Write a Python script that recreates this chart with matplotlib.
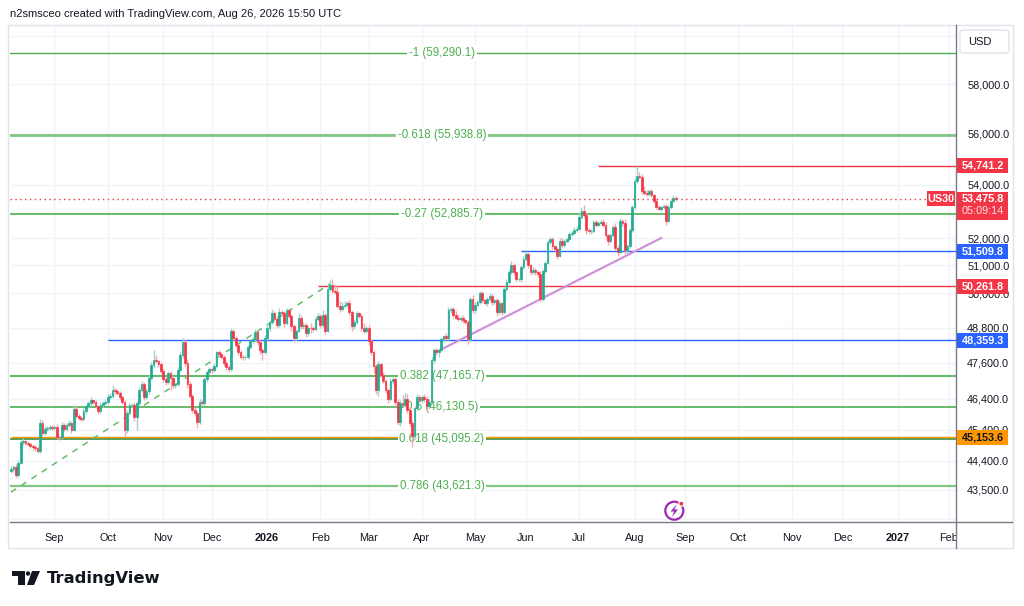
import numpy as np
import pandas as pd
import matplotlib
matplotlib.use("Agg")
import matplotlib.pyplot as plt
from matplotlib.patches import Rectangle, FancyBboxPatch, Ellipse, Polygon
from matplotlib.lines import Line2D
from matplotlib.ticker import FixedLocator, FixedFormatter, NullLocator

plt.rcParams["font.family"] = ["Liberation Sans", "DejaVu Sans"]

# ---- data --------------------------------------------------------------
first_day = "2025-08-06"
first_open = 44100

closes = [
    44150, 44220, 43950, 44350, 44990, 45020, 44960, 44930, 44880, 44840,
    44800, 44720, 45620, 45300, 45420, 45450, 45480, 45460, 45490, 45160,
    45150, 45560, 45420, 45550, 45610, 45400, 46070, 45850, 45760, 45750,
    46000, 46150, 46250, 46350, 46300, 46150, 46000, 46200, 46260, 46300,
    46450, 46500, 46700, 46650, 46600, 46450, 46300, 45400, 45950, 46200,
    46200, 45800, 46270, 46690, 46900, 46450, 46650, 47100, 47520, 47700,
    47650, 47550, 47330, 47050, 46950, 47250, 47100, 46850, 46880, 47350,
    47850, 48300, 47600, 46900, 46500, 46050, 45950, 45650, 46300, 46250,
    47050, 47300, 47400, 47350, 47500, 47950, 47900, 47800, 47600, 47450,
    47400, 48700, 48450, 48200, 47950, 47800, 47780, 47800, 48120, 48330,
    48400, 48650, 48300, 48050, 47950, 48450, 48800, 49000, 49300, 49100,
    48900, 49350, 49300, 48950, 49400, 49200, 48850, 48450, 48700, 49150,
    48850, 48900, 48600, 48800, 48780, 48750, 49100, 49200, 48900, 49250,
    48700, 50150, 50300, 50100, 50050, 49550, 49450, 49550, 49600, 49650,
    49350, 48850, 49000, 49300, 49200, 48800, 48700, 48800, 48350, 47950,
    47500, 46700, 47550, 47200, 47000, 46700, 46400, 47000, 47050, 46300,
    45650, 46270, 46200, 46400, 46050, 45600, 45200, 46100, 46450, 46350,
    46450, 46400, 46150, 46300, 47700, 48030, 47950, 48050, 48400, 48500,
    48450, 49400, 49450, 49250, 49150, 49100, 49150, 49050, 49000, 48400,
    49800, 49400, 49600, 49700, 50000, 49750, 49650, 49800, 49900, 49700,
    49750, 49350, 49650, 49350, 50150, 50400, 50750, 51000, 50750, 50500,
    50500, 50950, 51250, 51400, 51000, 50750, 50850, 50750, 50700, 49800,
    50800, 51100, 51850, 51950, 51700, 51600, 51350, 51900, 51750, 51900,
    51950, 52150, 52200, 52300, 52350, 52800, 53000, 52850, 52300, 52250,
    52250, 52600, 52500, 52550, 52600, 52500, 52100, 51900, 52100, 52400,
    51650, 51500, 52650, 52550, 51550, 51700, 52300, 53150, 54150, 54350,
    54300, 53750, 53700, 53650, 53750, 53600, 53400, 53150, 53100, 53150,
    53200, 52650, 53150, 53400, 53500, 53475.8,
]

# wick length above / below the body, in points
wick_up = [
    80, 60, 90, 70, 80, 100, 60, 70, 50, 60,
    60, 80, 120, 90, 100, 60, 80, 60, 70, 90,
    60, 80, 60, 70, 90, 60, 120, 80, 60, 70,
    90, 60, 80, 100, 60, 70, 60, 80, 60, 90,
    120, 80, 150, 60, 80, 60, 50, 60, 80, 70,
    60, 80, 60, 90, 80, 60, 100, 80, 120, 330,
    150, 60, 80, 60, 80, 60, 70, 60, 80, 100,
    120, 150, 80, 120, 90, 60, 80, 60, 100, 80,
    90, 60, 70, 60, 80, 60, 100, 80, 60, 70,
    60, 80, 60, 70, 60, 80, 60, 70, 90, 60,
    80, 120, 60, 70, 60, 100, 80, 60, 150, 80,
    100, 150, 60, 80, 100, 60, 70, 80, 60, 150,
    80, 100, 60, 70, 150, 80, 90, 120, 60, 150,
    60, 120, 180, 200, 250, 200, 180, 150, 120, 80,
    120, 80, 100, 80, 60, 70, 150, 60, 80, 60,
    80, 60, 100, 60, 80, 60, 60, 100, 90, 60,
    100, 80, 250, 200, 150, 120, 100, 80, 100, 80,
    60, 120, 100, 80, 100, 60, 80, 60, 80, 60,
    100, 120, 80, 60, 120, 80, 60, 80, 60, 80,
    80, 150, 100, 60, 100, 80, 60, 80, 120, 80,
    60, 80, 100, 60, 80, 100, 80, 150, 80, 60,
    80, 60, 100, 120, 80, 60, 80, 60, 80, 100,
    80, 60, 80, 100, 80, 60, 80, 120, 100, 80,
    60, 80, 60, 100, 80, 120, 150, 250, 80, 60,
    100, 80, 60, 80, 60, 100, 80, 60, 80, 100,
    150, 80, 100, 60, 150, 80, 60, 100, 120, 390,
    150, 100, 200, 120, 80, 100, 60, 80, 100, 60,
    80, 60, 80, 60, 100, 80,
]
wick_dn = [
    80, 100, 90, 60, 60, 80, 60, 70, 60, 80,
    90, 80, 60, 100, 60, 80, 60, 70, 60, 60,
    100, 60, 80, 60, 70, 100, 60, 80, 60, 80,
    60, 80, 60, 70, 80, 60, 90, 60, 80, 60,
    60, 70, 60, 80, 60, 90, 80, 250, 100, 60,
    80, 120, 400, 60, 80, 100, 60, 80, 60, 80,
    60, 80, 60, 100, 80, 60, 400, 100, 80, 60,
    60, 80, 100, 150, 80, 120, 100, 200, 80, 100,
    60, 80, 60, 100, 60, 80, 60, 80, 100, 80,
    120, 60, 80, 60, 100, 60, 80, 60, 80, 60,
    60, 80, 100, 150, 250, 60, 80, 100, 60, 80,
    100, 60, 80, 120, 60, 80, 150, 150, 100, 60,
    80, 100, 120, 80, 150, 100, 60, 80, 100, 60,
    120, 60, 80, 100, 60, 80, 100, 80, 60, 80,
    100, 150, 80, 60, 80, 120, 100, 80, 150, 100,
    250, 150, 200, 80, 60, 100, 150, 80, 100, 120,
    100, 150, 80, 60, 100, 100, 350, 100, 60, 80,
    80, 100, 150, 80, 60, 100, 80, 150, 60, 80,
    80, 60, 80, 100, 60, 80, 100, 80, 60, 150,
    60, 100, 80, 60, 80, 100, 60, 80, 60, 120,
    80, 150, 60, 100, 80, 60, 80, 60, 100, 80,
    60, 80, 60, 100, 80, 100, 60, 80, 100, 100,
    60, 80, 60, 80, 100, 80, 100, 60, 100, 80,
    80, 60, 80, 60, 80, 60, 80, 100, 150, 80,
    100, 60, 80, 60, 80, 100, 120, 150, 80, 60,
    100, 150, 80, 100, 150, 80, 60, 80, 60, 80,
    60, 100, 80, 60, 80, 60, 100, 80, 60, 80,
    80, 150, 60, 80, 60, 80,
]

fib_levels = ["-1", "-0.618", "-0.27", "0.382", "0.5", "0.618", "0.786"]
fib_prices = [59290.1, 55938.8, 52885.7, 47165.7, 46130.5, 45095.2, 43621.3]
fib_label_day = "2026-04-13"

# horizontal rays: price, colour, first day
ray_prices = [54741.2, 51509.8, 50261.8, 48359.3, 45153.6]
ray_starts = ["2026-07-13", "2026-05-28", "2026-01-30", "2025-10-01", "2025-08-05"]
last_price = 53475.8
countdown = "05:09:14"

# trend lines (anchor day, anchor price)
fib_trend_days = ["2025-08-06", "2026-02-06"]
fib_trend_prices = [43430, 50340]
support_days = ["2026-04-09", "2026-08-18"]
support_prices = [47970, 52000]

price_ticks = [60000, 58000, 56000, 54000, 52000, 51000, 50000, 48800,
               47600, 46400, 45400, 44400, 43500, 42600]

# ---- style ---------------------------------------------------------------
W, H = 1024, 606
UP, DOWN = "#22ab94", "#f23645"
UP_WICK, DOWN_WICK = "#9dd5c9", "#f7a9b0"
RED, BLUE, ORANGE = "#f23645", "#2962ff", "#ff9800"
FIB_TEXT = "#4caf50"
fib_colors = ["#4caf50", "#81c784", "#4caf50", "#66bb6a", "#4caf50", "#388e3c", "#81c784"]
fib_widths = [1.0, 2.0, 1.2, 1.5, 1.2, 1.2, 1.6]
ray_colors = [RED, BLUE, RED, BLUE, ORANGE]
TXT = "#131722"
GRID = "#f0f3fa"


def fx(px):
    return px / W


def fy(py):
    return 1 - py / H


dates = pd.bdate_range(first_day, periods=400)


def bar_of(day):
    return int(np.searchsorted(dates.values, np.datetime64(day)))


fig = plt.figure(figsize=(W / 100, H / 100), dpi=100)
fig.patch.set_facecolor("white")
ax = fig.add_axes([fx(10), fy(522), fx(946), 497 / H])
ax.set_facecolor("white")
ax.set_yscale("log")
ax.set_ylim(42521, 60477)
ax.set_xlim(-0.41, 391.0)
for s in ax.spines.values():
    s.set_visible(False)

# time axis
months = pd.period_range("2025-09", "2027-02", freq="M")
tick_pos = [bar_of(m.start_time) for m in months]
tick_lab = [str(m.year) if m.month == 1 else m.strftime("%b") for m in months]
ax.set_xticks(tick_pos)
ax.set_xticklabels(tick_lab)
for lab in ax.get_xticklabels():
    if lab.get_text().isdigit():
        lab.set_fontweight("bold")
ax.tick_params(axis="x", length=0, pad=8, labelsize=7.8, colors=TXT)

# price axis
ax.yaxis.tick_right()
ax.yaxis.set_major_locator(FixedLocator(price_ticks))
ax.yaxis.set_major_formatter(FixedFormatter(
    ["" if p in (60000, 42600) else f"{p:,.1f}" for p in price_ticks]))
ax.yaxis.set_minor_locator(NullLocator())
ax.tick_params(axis="y", length=0, pad=8, labelsize=7.8, colors=TXT)
ax.grid(True, color=GRID, lw=1, zorder=0)
ax.set_axisbelow(True)

# fib levels
fib_x = bar_of(fib_label_day) + 0.3
for lvl, p, col, lw in zip(fib_levels, fib_prices, fib_colors, fib_widths):
    ax.axhline(p, color=col, lw=lw, zorder=2)
    ax.text(fib_x, p, f"{lvl} ({p:,.1f})", ha="center", va="center",
            fontsize=8.3, color=FIB_TEXT, zorder=3,
            bbox=dict(fc="white", ec="none", pad=1.2))

# rays and current price
for p, col, day in zip(ray_prices, ray_colors, ray_starts):
    ax.hlines(p, bar_of(day), 391, color=col, lw=1, zorder=2)
ax.axhline(last_price, color=RED, lw=1, ls=(0, (1, 2.5)), zorder=2)

# trend lines
ax.plot([bar_of(d) for d in fib_trend_days], fib_trend_prices,
        color="#66bb6a", lw=1.1, ls=(0, (4, 4)), zorder=3)
ax.plot([bar_of(d) for d in support_days], support_prices,
        color="#ce93d8", lw=1.6, zorder=3)

# candles
o = np.array([first_open] + closes[:-1], dtype=float)
c = np.array(closes, dtype=float)
x = np.arange(len(c))
top = np.maximum(o, c)
bot = np.minimum(o, c)
hi = top + np.array(wick_up)
lo = bot - np.array(wick_dn)
rising = c >= o
body_col = np.where(rising, UP, DOWN)
wick_col = np.where(rising, UP_WICK, DOWN_WICK)
ax.vlines(x, lo, hi, colors=wick_col, lw=1, zorder=4)
ax.bar(x, top - bot, bottom=bot, width=0.72, color=body_col,
       edgecolor=body_col, linewidth=0.5, zorder=5)

# ---- frame and scale lines ---------------------------------------------
fig.add_artist(Rectangle((fx(8), fy(548)), fx(1005), 523 / H, transform=fig.transFigure,
                         fill=False, ec="#e0e3eb", lw=1, zorder=1))
fig.add_artist(Rectangle((fx(957), fy(547)), fx(54), 24 / H, transform=fig.transFigure,
                         fc="white", ec="none", zorder=6))
fig.add_artist(Line2D([fx(956), fx(956)], [fy(25), fy(548)], transform=fig.transFigure,
                      color="#787b86", lw=1, zorder=7))
fig.add_artist(Line2D([fx(10), fx(1012)], [fy(522), fy(522)], transform=fig.transFigure,
                      color="#787b86", lw=1, zorder=7))

# USD box
fig.add_artist(FancyBboxPatch((fx(960), fy(53)), fx(49), 23 / H,
                              boxstyle="round,pad=0,rounding_size=0.004",
                              transform=fig.transFigure, fc="white", ec="#e0e3eb",
                              lw=1, zorder=8))
fig.text(fx(968), fy(42), "USD", fontsize=8, color=TXT, va="center", zorder=9)


def price_y(p):
    return ax.transData.transform((0, p))[1] / H


def price_tag(p, text, fc, tc="white"):
    yc = price_y(p)
    fig.add_artist(Rectangle((fx(957), yc - 7.5 / H), fx(51), 15 / H,
                             transform=fig.transFigure, fc=fc, ec="none", zorder=10))
    fig.text(fx(982.5), yc, text, ha="center", va="center", fontsize=7.8,
             fontweight="bold", color=tc, zorder=11)


for p, col in zip(ray_prices, ray_colors):
    price_tag(p, f"{p:,.1f}", col, TXT if col == ORANGE else "white")

# last price tag with countdown and symbol
yc = price_y(last_price)
fig.add_artist(Rectangle((fx(957), yc - 21 / H), fx(51), 28 / H,
                         transform=fig.transFigure, fc=RED, ec="none", zorder=10))
fig.text(fx(982.5), yc, f"{last_price:,.1f}", ha="center", va="center",
         fontsize=7.8, fontweight="bold", color="white", zorder=11)
fig.text(fx(982.5), yc - 12.5 / H, countdown, ha="center", va="center",
         fontsize=7.8, color="#fde0e3", zorder=11)
fig.add_artist(Rectangle((fx(927), yc - 7.5 / H), fx(28), 15 / H,
                         transform=fig.transFigure, fc=RED, ec="none", zorder=10))
fig.text(fx(941), yc, "US30", ha="center", va="center", fontsize=7.8,
         fontweight="bold", color="white", zorder=11)

# header
fig.text(fx(10), fy(14), "n2smsceo created with TradingView.com, Aug 26, 2026 15:50 UTC",
         fontsize=8, color=TXT, va="center")

# event icon
fig.add_artist(Ellipse((fx(674.3), fy(510.7)), 18 / W, 18 / H, transform=fig.transFigure,
                       fill=False, ec="#9c27b0", lw=1.6, zorder=8))
bolt = [(676.5, 504.5), (670.5, 511.5), (674, 511.5), (672, 517), (678, 509.5), (674.5, 509.5)]
fig.add_artist(Polygon([(fx(a), fy(b)) for a, b in bolt], closed=True,
                       transform=fig.transFigure, fc="#9c27b0", ec="none", zorder=8))
fig.add_artist(Ellipse((fx(681.3), fy(503.7)), 5 / W, 5 / H, transform=fig.transFigure,
                       fc="#f23645", ec="white", lw=0.8, zorder=9))

# TradingView logo
logo_t = [(12, 571), (25, 571), (25, 585), (18, 585), (18, 576), (12, 576)]
logo_v = [(32, 571), (40, 571), (34, 585), (27, 585)]
for shape in (logo_t, logo_v):
    fig.add_artist(Polygon([(fx(a), fy(b)) for a, b in shape], closed=True,
                           transform=fig.transFigure, fc=TXT, ec="none"))
fig.add_artist(Ellipse((fx(28), fy(573.5)), 4.5 / W, 4.5 / H, transform=fig.transFigure,
                       fc=TXT, ec="none"))
fig.text(fx(47), fy(578), "TradingView", fontsize=11.8, fontweight="bold",
         family="DejaVu Sans", color=TXT, va="center")

fig.savefig("out.png", dpi=100)
